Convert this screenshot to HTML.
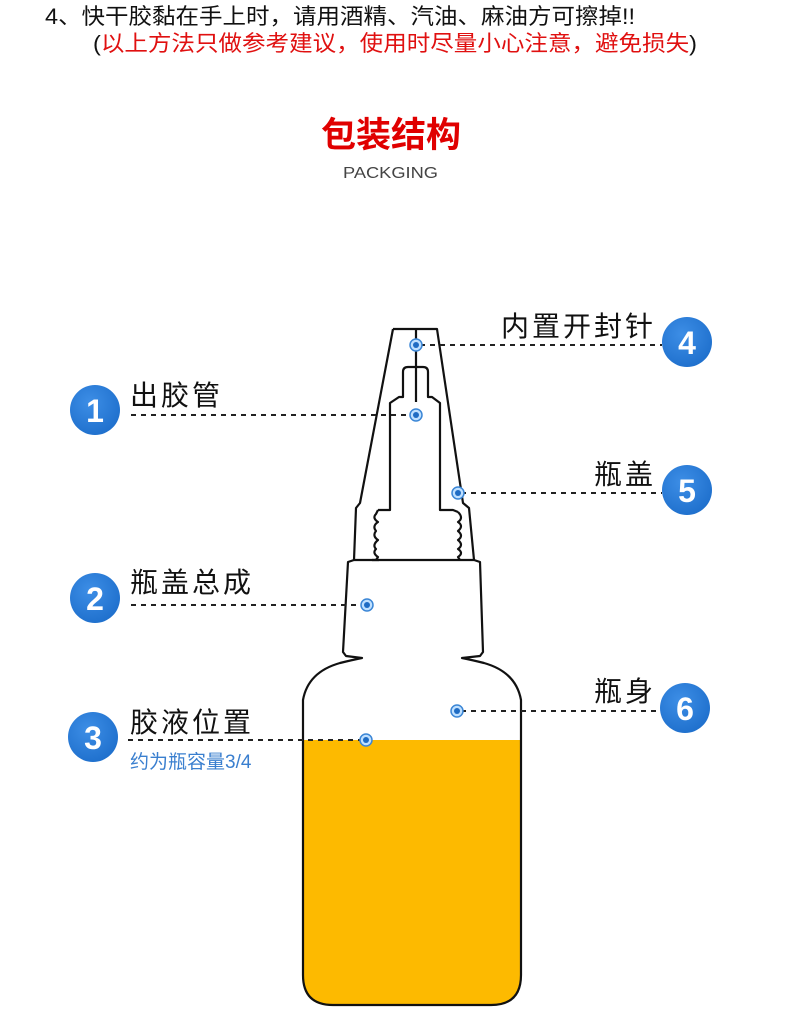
<!DOCTYPE html>
<html><head><meta charset="utf-8"><style>
html,body{margin:0;padding:0;background:#fff;width:790px;height:1027px;overflow:hidden}
svg{display:block}
text{font-family:"Liberation Sans","Noto Sans CJK SC",sans-serif}
</style></head><body>
<svg width="790" height="1027" viewBox="0 0 790 1027" xmlns="http://www.w3.org/2000/svg">
<defs>
<radialGradient id="bg" cx="40%" cy="35%" r="70%">
<stop offset="0" stop-color="#3d8ee6"/><stop offset="1" stop-color="#1e6fcc"/>
</radialGradient>
</defs>
<text x="45" y="24" font-size="22" fill="#111" textLength="590" lengthAdjust="spacingAndGlyphs">4、快干胶黏在手上时，请用酒精、汽油、麻油方可擦掉!!</text>
<text x="93" y="51" font-size="22" fill="#e01010" textLength="604" lengthAdjust="spacingAndGlyphs"><tspan fill="#111">(</tspan>以上方法只做参考建议，使用时尽量小心注意，避免损失<tspan fill="#111">)</tspan></text>
<text x="391" y="147" font-size="35" font-weight="bold" fill="#e00000" text-anchor="middle" font-family="Noto Sans CJK SC,sans-serif">包装结构</text>
<text x="343" y="178" font-size="16" fill="#444" textLength="95" lengthAdjust="spacingAndGlyphs">PACKGING</text>

<!-- liquid -->
<path d="M303 740 L521 740 L521 975 Q521 1005 491 1005 L333 1005 Q303 1005 303 975 Z" fill="#FDBA00"/>
<g fill="none" stroke="#111" stroke-width="2.2" stroke-linejoin="round">
<path d="M393 329 L437 329 L463 503 L469 508 L474 560"/>
<path d="M393 329 L360 503 L356 508 L354 560"/>
<path d="M379 560 L372 560 M378 510 L390 510 L390 403 L399 397 L403 397 L403 372 Q403 367 408 367 L423 367 Q428 367 428 372 L428 397 L432 397 L440 403 L440 510 L453 510 L458 512"/>
<path d="M378 510 L376 514 Q372 518 378 522 Q372 526 376 531 Q372 536 378 540 Q372 545 376 549 Q372 553 378 557 L376 560"/>
<path d="M458 512 Q464 518 458 522 Q464 526 458 531 Q464 536 458 540 Q464 545 458 549 Q464 553 458 557 L460 560"/>
<line x1="416" y1="329" x2="416" y2="402"/>
<path d="M354 560 L348 562 L343 652 L346 656 L362 658 Q352 660 340 663 Q308 672 303 700 L303 975 Q303 1005 333 1005 L491 1005 Q521 1005 521 975 L521 700 Q516 672 484 663 Q472 660 462 658 L480 656 L483 652 L480 562 L474 560 Z"/>
</g>
<g stroke="#222" stroke-width="2" stroke-dasharray="5,5">
<line x1="131" y1="415" x2="412" y2="415"/>
<line x1="131" y1="605" x2="362" y2="605"/>
<line x1="128" y1="740" x2="362" y2="740"/>
<line x1="420" y1="345" x2="662" y2="345"/>
<line x1="461" y1="493" x2="662" y2="493"/>
<line x1="461" y1="711" x2="662" y2="711"/>
</g>
<g>
<g fill="#bfe0ff" stroke="#3b86d6" stroke-width="1.5">
<circle cx="416" cy="345" r="6"/><circle cx="416" cy="415" r="6"/><circle cx="458" cy="493" r="6"/>
<circle cx="367" cy="605" r="6"/><circle cx="457" cy="711" r="6"/><circle cx="366" cy="740" r="6"/>
</g>
<g fill="#1f6cc4">
<circle cx="416" cy="345" r="3"/><circle cx="416" cy="415" r="3"/><circle cx="458" cy="493" r="3"/>
<circle cx="367" cy="605" r="3"/><circle cx="457" cy="711" r="3"/><circle cx="366" cy="740" r="3"/>
</g>
</g>
<g fill="url(#bg)">
<circle cx="95" cy="410" r="25"/><circle cx="95" cy="598" r="25"/><circle cx="93" cy="737" r="25"/>
<circle cx="687" cy="342" r="25"/><circle cx="687" cy="490" r="25"/><circle cx="685" cy="708" r="25"/>
</g>
<g fill="#fff" font-size="32" font-weight="bold" text-anchor="middle">
<text x="95" y="422">1</text><text x="95" y="610">2</text><text x="93" y="749">3</text>
<text x="687" y="354">4</text><text x="687" y="502">5</text><text x="685" y="720">6</text>
</g>
<g font-size="28" fill="#111" font-family="Noto Sans CJK SC,sans-serif" letter-spacing="3">
<text x="130" y="405">出胶管</text>
<text x="130" y="592">瓶盖总成</text>
<text x="130" y="732">胶液位置</text>
<text x="656" y="336" text-anchor="end">内置开封针</text>
<text x="656" y="484" text-anchor="end">瓶盖</text>
<text x="656" y="701" text-anchor="end">瓶身</text>
</g>
<text x="130" y="768" font-size="19" fill="#3a7fcf" font-family="Noto Sans CJK SC,sans-serif">约为瓶容量3/4</text>
</svg>
</body></html>
